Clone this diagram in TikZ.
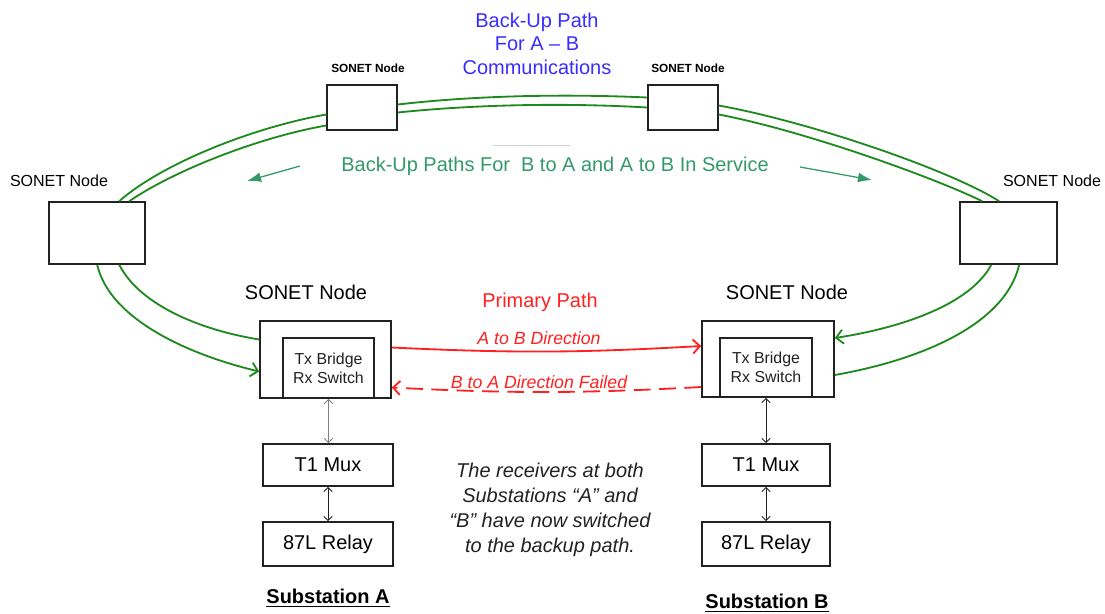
\documentclass[tikz,border=0pt]{standalone}
\usepackage{fontspec}
\setmainfont{Liberation Sans}
\usetikzlibrary{calc,arrows.meta}
\definecolor{myblack}{HTML}{222222}
\definecolor{mygreen}{HTML}{1E8A1E}
\definecolor{myteal}{HTML}{33996A}
\definecolor{myred}{HTML}{FF2020}
\definecolor{myblue}{HTML}{3A2BFF}

\begin{document}
\begin{tikzpicture}[x=0.025cm, y=-0.025cm,
  box/.style={draw=myblack, line width=1.1pt, fill=white, inner sep=0pt},
  ring/.style={mygreen, line width=1.3pt},
  txt/.style={font=\fontsize{14.2pt}{17.8pt}\selectfont},
  small/.style={font=\fontsize{11.3pt}{13.6pt}\selectfont, text=myblack}]

\useasboundingbox (0,0) rectangle (1105,613);

% RING NODES
\node[box, minimum width=1.75cm, minimum height=1.125cm] (topL) at (362,107.5) {};
\node[box, minimum width=1.75cm, minimum height=1.125cm] (topR) at (683,107.5) {};
\node[box, minimum width=2.4cm, minimum height=1.55cm] (lft) at (97,233) {};
\node[box, minimum width=2.425cm, minimum height=1.55cm] (rgt) at (1008.5,233) {};
\node[font=\bfseries\fontsize{8.4pt}{10pt}\selectfont] at (368,68) {SONET Node};
\node[font=\bfseries\fontsize{8.4pt}{10pt}\selectfont] at (688,68) {SONET Node};
\node[font=\fontsize{11.4pt}{13pt}\selectfont] at (59,181) {SONET Node};
\node[font=\fontsize{11.4pt}{13pt}\selectfont] at (1052,181) {SONET Node};

% SUBSTATION A
\node[box, minimum width=3.275cm, minimum height=1.925cm] (nodeA) at (325.5,359.5) {};
\node[box, small, anchor=south, minimum width=2.275cm, minimum height=1.5cm, align=center] (txA) at ($(nodeA.south)+(3,0)$) {Tx Bridge\\Rx Switch};
\node[box, txt, minimum width=3.25cm, minimum height=1.05cm] (muxA) at (328,465) {T1 Mux};
\node[box, txt, minimum width=3.25cm, minimum height=1.1cm] (relA) at (328,544) {87L Relay};
\node[txt] at (306,292) {SONET Node};
\node[txt] at (328,598) {\underline{\textbf{Substation A}}};

% SUBSTATION B
\node[box, minimum width=3.3cm, minimum height=1.9cm] (nodeB) at (768,359) {};
\node[box, small, anchor=south, minimum width=2.3cm, minimum height=1.475cm, align=center] (txB) at ($(nodeB.south)+(-2,0)$) {Tx Bridge\\Rx Switch};
\node[box, txt, minimum width=3.2cm, minimum height=1.05cm] (muxB) at (766,465) {T1 Mux};
\node[box, txt, minimum width=3.2cm, minimum height=1.1cm] (relB) at (766,544) {87L Relay};
\node[txt] at (787,292) {SONET Node};
\node[txt] at (767,603) {\underline{\textbf{Substation B}}};

% LOCAL LINKS
\foreach \a/\b/\c in {txA/muxA/gray, muxA/relA/myblack, txB/muxB/myblack, muxB/relB/myblack} {
  \draw[\c, line width=0.7pt, {Straight Barb[length=3pt,width=6pt]}-{Straight Barb[length=3pt,width=6pt]}] (\a.south) -- (\a.south |- \b.north);
}

% BACK-UP RING
\draw[ring] ($(lft.north west)+(71,0)$) .. controls (160,165) and (250,128) .. ($(topL.west)+(0,7)$);
\draw[ring] ($(lft.north west)+(81,0)$) .. controls (175,170) and (260,137) .. ($(topL.west)+(0,18)$);
\draw[ring] ($(topL.east)+(0,-3)$) .. controls (480,95) and (570,94) .. ($(topR.west)+(0,-10)$);
\draw[ring] ($(topL.east)+(0,5)$) .. controls (480,104) and (570,103) .. ($(topR.west)+(0,0)$);
\draw[ring] ($(topR.east)+(0,-2)$) .. controls (810,122) and (950,170) .. ($(rgt.north west)+(40,0)$);
\draw[ring] ($(topR.east)+(0,7)$) .. controls (805,131) and (935,178) .. ($(rgt.north west)+(23,0)$);
\draw[ring, -{Straight Barb[length=5pt,width=10pt]}] ($(lft.south west)+(49,0)$) .. controls (110,320) and (190,355) .. ($(nodeA.west)+(0,12)$);
\draw[ring] ($(lft.south west)+(71,0)$) .. controls (140,305) and (200,330) .. ($(nodeA.west)+(0,-20)$);
\draw[ring, -{Straight Barb[length=5pt,width=10pt]}] ($(rgt.south west)+(32,0)$) .. controls (970,305) and (900,328) .. ($(nodeB.east)+(0,-21)$);
\draw[ring] ($(rgt.south west)+(60,0)$) .. controls (1005,325) and (920,360) .. ($(nodeB.east)+(0,16)$);

% RING LABELS
\node[text=myblue, align=center, font=\fontsize{14.2pt}{16.7pt}\selectfont] (backup) at (537,43.5) {Back-Up Path\\For A -- B\\Communications};
\node[txt, text=myteal] (service) at (555,166) {Back-Up Paths For\ \ B to A and A to B In Service};
\coordinate (svcL) at (300,166);
\coordinate (svcR) at (800,167);
\draw[myteal, line width=0.9pt, -{Latex[length=10pt,width=7pt]}] (svcL) -- (247,181);
\draw[myteal, line width=0.9pt, -{Latex[length=10pt,width=7pt]}] (svcR) -- (872,180);
\draw[gray!35, line width=0.7pt] (493,145) -- (570,145);

% PRIMARY PATH
\node[txt, text=myred] (primary) at (540,302) {Primary Path};
\node[text=myred, font=\itshape\fontsize{12.6pt}{15pt}\selectfont] at (539,338) {A to B Direction};
\node[text=myred, font=\itshape\fontsize{12.6pt}{15pt}\selectfont] at (539,382) {B to A Direction Failed};
\draw[myred, line width=1.3pt, -{Straight Barb[length=5pt,width=10pt]}] ($(nodeA.east)+(0,-12)$) to[bend right=3] ($(nodeB.west)+(0,-13)$);
\draw[myred, line width=1.3pt, dash pattern=on 12pt off 6pt, -{Straight Barb[length=5pt,width=10pt]}] ($(nodeB.west)+(0,28)$) to[bend left=3] ($(nodeA.east)+(0,28)$);

% NOTE
\node[font=\itshape\fontsize{14.2pt}{17.8pt}\selectfont, text=myblack, align=center] at (550,509.5) {The receivers at both\\Substations “A” and\\“B” have now switched\\to the backup path.};

\end{tikzpicture}
\end{document}
